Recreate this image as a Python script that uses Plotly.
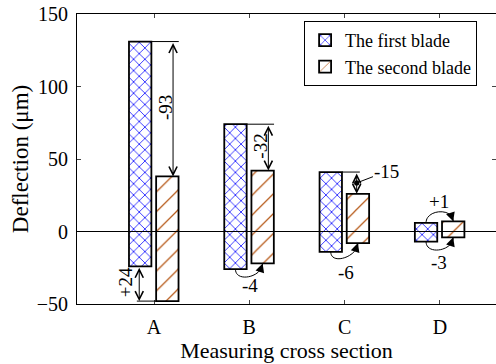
import plotly.graph_objects as go

# ---- data ----
categories = ["A", "B", "C", "D"]
first_max = [131, 74, 41, 6]
first_min = [-24, -26, -14, -7]
second_max = [38, 42, 26, 7]
second_min = [-48, -22, -8, -4]
top_change = ["-93", "-32", "-15", "+1"]
bottom_change = ["+24", "-4", "-6", "-3"]

xs = [1, 2, 3, 4]
BW = 0.235
OFF1, OFF2 = -0.2625, 0.0225
FONT = "Liberation Serif, Times New Roman, serif"
AFS = 19

fig = go.Figure()
fig.add_trace(go.Bar(
    x=xs, y=[a - b for a, b in zip(first_max, first_min)], base=first_min,
    width=BW, offset=OFF1, name="The first blade",
    marker=dict(color="white", line=dict(color="black", width=1.8),
                pattern=dict(shape="x", fgcolor="#0000ff", bgcolor="white", size=8,
                             solidity=0.18, fgopacity=1)),
))
fig.add_trace(go.Bar(
    x=xs, y=[a - b for a, b in zip(second_max, second_min)], base=second_min,
    width=BW, offset=OFF2, name="The second blade",
    marker=dict(color="white", line=dict(color="black", width=1.8),
                pattern=dict(shape="/", fgcolor="#b85c1c", bgcolor="white", size=14,
                             solidity=0.09, fgopacity=1)),
))

c1 = [x + OFF1 + BW / 2 for x in xs]
c2 = [x + OFF2 + BW / 2 for x in xs]
r1 = [x + OFF1 + BW for x in xs]
l2 = [x + OFF2 for x in xs]

shapes = []
ann = []
LW = 1

def dbl_arrow(x, y0, y1):
    ann.append(dict(x=x, y=y1, ax=x, ay=y0, xref="x", yref="y", axref="x", ayref="y",
                    text="", showarrow=True, arrowside="end+start", arrowhead=5,
                    startarrowhead=5, arrowsize=1.6, startarrowsize=1.6,
                    arrowwidth=1, arrowcolor="black", standoff=0, startstandoff=0))

def hline(xa, xb, y):
    shapes.append(dict(type="line", xref="x", yref="y", x0=xa, x1=xb, y0=y, y1=y,
                       line=dict(color="black", width=LW), layer="above"))

def label(x, y, t, angle=0):
    ann.append(dict(x=x, y=y, xref="x", yref="y", text=t, showarrow=False,
                    textangle=angle, font=dict(size=AFS, family=FONT, color="black")))

def arc(xa, ya, xb, yb, d, up=False):
    s = 1 if up else -1
    path = f"M{xa},{ya} C{xa},{ya + s * d} {xb},{yb + s * d} {xb},{yb}"
    shapes.append(dict(type="path", xref="x", yref="y", path=path,
                       line=dict(color="black", width=LW), layer="above"))
    ann.append(dict(x=xb, y=yb, ax=xb - 0.015, ay=yb + s * 3, xref="x", yref="y",
                    axref="x", ayref="y", text="", showarrow=True, arrowhead=2,
                    arrowsize=1.8, arrowwidth=1, arrowcolor="black", standoff=0))

# A and B: top differences with vertical double arrows
for i in (0, 1):
    hline(r1[i], c2[i] + 0.12, first_max[i])
    dbl_arrow(c2[i] + 0.06, first_max[i], second_max[i])
    label(c2[i] - 0.02, (first_max[i] + second_max[i]) / 2 + 1, top_change[i], -90)

# A bottom
hline(c1[0] - 0.035, l2[0], second_min[0])
dbl_arrow(c1[0] - 0.01, first_min[0], second_min[0])
label(c1[0] - 0.16, (first_min[0] + second_min[0]) / 2 + 1, bottom_change[0], -90)

# C top
hline(r1[2], c2[2] + 0.02, first_max[2])
dbl_arrow(c2[2] - 0.013, first_max[2], second_max[2])
ann.append(dict(x=c2[2] - 0.013, y=(first_max[2] + second_max[2]) / 2, ax=3.445, ay=41.5,
                xref="x", yref="y", axref="x", ayref="y", text=top_change[2],
                showarrow=True, arrowhead=6, arrowsize=1.3, arrowwidth=1, arrowcolor="black",
                standoff=0, font=dict(size=AFS, family=FONT, color="black")))

# B, C, D bottom arcs
arc(c1[1], first_min[1], c2[1], second_min[1], 9.5)
label(2.007, -37, bottom_change[1])
arc(c1[2], first_min[2], c2[2], second_min[2], 9.5)
label(3.01, -28, bottom_change[2])
arc(c1[3], first_min[3], c2[3], second_min[3], 9.5)
label(3.99, -21.5, bottom_change[3])
# D top arc
arc(c1[3], first_max[3], c2[3], second_max[3], 9.5, up=True)
label(3.99, 21, top_change[3])

# zero line
shapes.append(dict(type="line", xref="paper", yref="y", x0=0, x1=1, y0=0, y1=0,
                   line=dict(color="black", width=1), layer="above"))

fig.update_layout(
    width=496, height=364,
    margin=dict(l=77, r=0, t=14, b=60),
    paper_bgcolor="white", plot_bgcolor="white",
    font=dict(family=FONT, color="black", size=20),
    barmode="overlay",
    shapes=shapes, annotations=ann,
    legend=dict(x=0.542, y=0.976, xanchor="left", yanchor="top",
                bordercolor="black", borderwidth=1, bgcolor="white",
                font=dict(size=18, family=FONT, color="black"), tracegroupgap=0),
    xaxis=dict(range=[0.192, 4.589], tickvals=xs, ticktext=categories,
               ticks="inside", ticklen=4, showline=True, linecolor="black", linewidth=1,
               mirror="ticks", showgrid=False, zeroline=False, ticklabelstandoff=5,
               tickfont=dict(size=20, family=FONT, color="black"),
               title=dict(text="Measuring cross section",
                          font=dict(size=22, family=FONT, color="black"), standoff=3)),
    yaxis=dict(range=[-50, 150], tickvals=[-50, 0, 50, 100, 150],
               ticks="inside", ticklen=4, showline=True, linecolor="black", linewidth=1,
               mirror="ticks", showgrid=False, zeroline=False, ticklabelstandoff=4,
               tickfont=dict(size=20, family=FONT, color="black"),
               title=dict(text="Deflection (μm)",
                          font=dict(size=23, family=FONT, color="black"), standoff=1)),
)

fig.write_html("out.html")
